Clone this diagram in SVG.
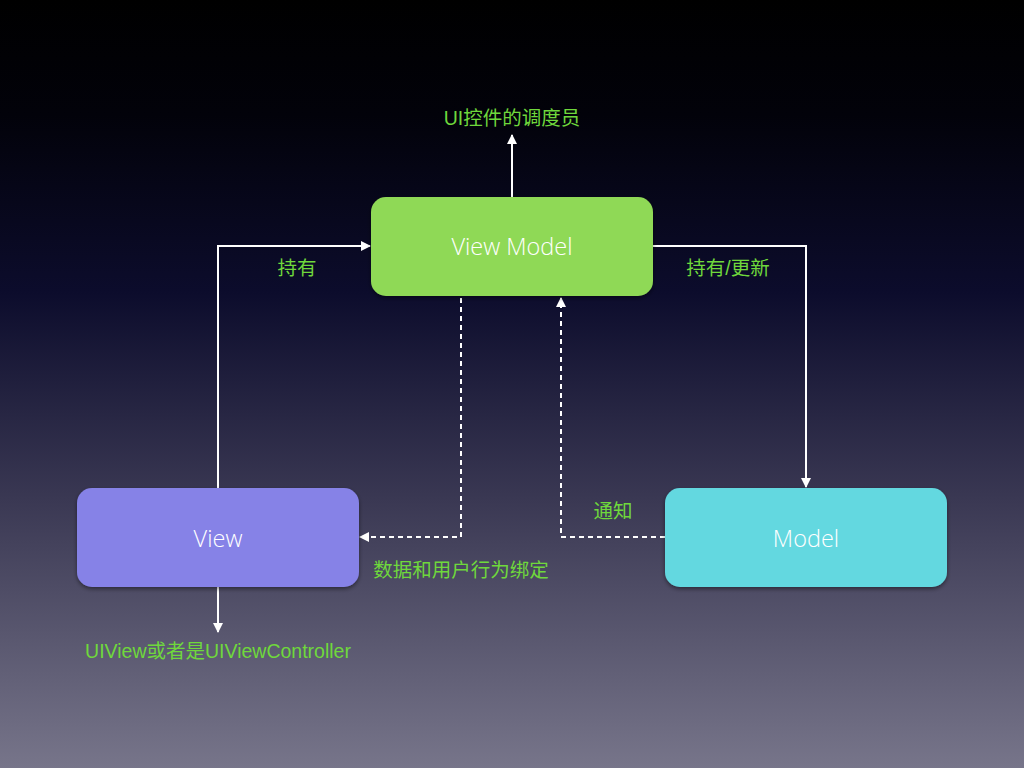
<svg xmlns="http://www.w3.org/2000/svg" width="1024" height="768" viewBox="0 0 1024 768">
  <defs>
    <linearGradient id="bg" x1="0" y1="0" x2="0" y2="1">
      <stop offset="0" stop-color="#000000"/>
      <stop offset="0.15" stop-color="#02020a"/>
      <stop offset="0.38" stop-color="#0c0c2c"/>
      <stop offset="0.65" stop-color="#3a3853"/>
      <stop offset="1" stop-color="#77758a"/>
    </linearGradient>
    <filter id="shadow" x="-10%" y="-10%" width="120%" height="130%">
      <feDropShadow dx="0" dy="2" stdDeviation="2" flood-color="#000" flood-opacity="0.45"/>
    </filter>
    <marker id="arrow" viewBox="0 0 10 10" refX="9" refY="5" markerWidth="10" markerHeight="10" markerUnits="userSpaceOnUse" orient="auto">
      <path d="M0,0 L10,5 L0,10 Z" fill="#ffffff"/>
    </marker>
  </defs>
  <style>
    .box { filter: url(#shadow); }
    .name { font-family: "Open Sans", "Liberation Sans", sans-serif; font-weight: 300; font-size: 23.5px; fill: #ffffff; text-anchor: middle; }
    .label { font-family: "Liberation Sans", "Noto Sans CJK SC", sans-serif; font-size: 19.5px; fill: #6fd83c; text-anchor: middle; }
    .line { fill: none; stroke: #ffffff; stroke-width: 2; }
    .dash { fill: none; stroke: #ffffff; stroke-width: 2; stroke-dasharray: 5 4; }
  </style>

  <rect width="1024" height="768" fill="url(#bg)"/>

  <!-- connectors -->
  <g id="connectors">
    <path class="line" d="M512,197 V135" marker-end="url(#arrow)"/>
    <path class="line" d="M218,488 V246 H370" marker-end="url(#arrow)"/>
    <path class="line" d="M653,246 H806 V487" marker-end="url(#arrow)"/>
    <path class="dash" d="M461,298 V537 H360" marker-end="url(#arrow)"/>
    <path class="dash" d="M665,537 H561 V298" marker-end="url(#arrow)"/>
    <path class="line" d="M218,587 V632" marker-end="url(#arrow)"/>
  </g>

  <!-- nodes -->
  <g id="viewmodel">
    <rect class="box" x="371" y="197" width="282" height="99" rx="15" fill="#8fd957"/>
    <text class="name" x="512" y="255">View Model</text>
  </g>
  <g id="view">
    <rect class="box" x="77" y="488" width="282" height="99" rx="15" fill="#8682e7"/>
    <text class="name" x="218" y="547">View</text>
  </g>
  <g id="model">
    <rect class="box" x="665" y="488" width="282" height="99" rx="15" fill="#63d8e0"/>
    <text class="name" x="806" y="547">Model</text>
  </g>

  <!-- labels -->
  <g id="labels">
    <text class="label" x="512" y="125">UI控件的调度员</text>
    <text class="label" x="297" y="275">持有</text>
    <text class="label" x="728" y="275">持有/更新</text>
    <text class="label" x="613" y="518">通知</text>
    <text class="label" x="461" y="577">数据和用户行为绑定</text>
    <text class="label" x="218" y="658">UIView或者是UIViewController</text>
  </g>
</svg>
